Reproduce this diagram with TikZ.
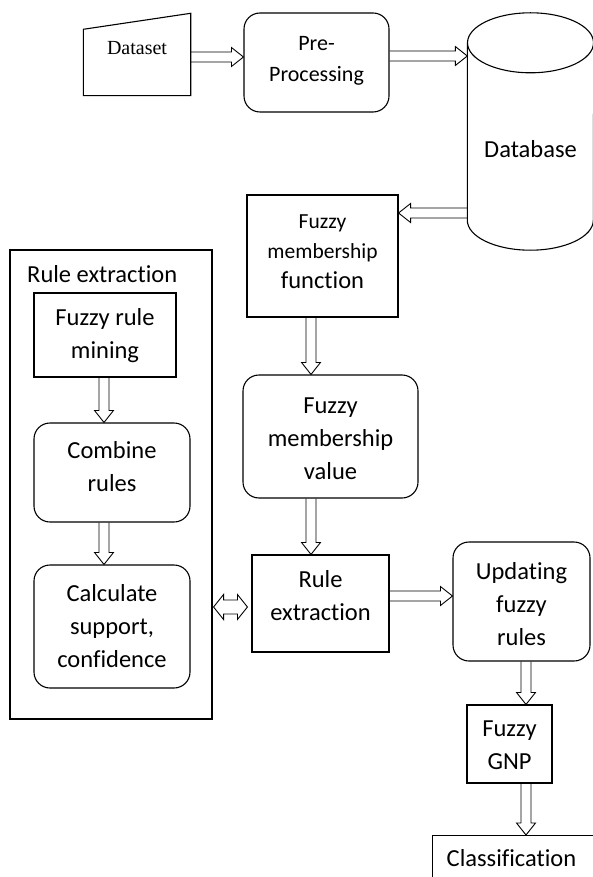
\documentclass[tikz,border=0pt]{standalone}
\usepackage{fontspec}
\setmainfont{Carlito}[Ligatures=NoCommon]
\newfontfamily\dsfont{Liberation Serif}
\usetikzlibrary{calc}
\tikzset{
  base/.style={align=center, font=\fontsize{24.5}{33}\selectfont, inner sep=0pt},
  sqbox/.style={draw, line width=1.1pt, rectangle, inner sep=0pt},
  rbox/.style={draw, line width=1.1pt, rectangle, rounded corners=16pt, inner sep=0pt},
  arrline/.style={line width=0.9pt, line join=miter},
  frameline/.style={line width=1.1pt},
}
\newcommand\blockarr[2]{%
  \coordinate (tmpC) at ($(#2)!12pt!(#1)$);
  \draw[arrline] ($(#1)!5pt!90:(#2)$) -- ($(tmpC)!5pt!90:(#2)$) -- ($(tmpC)!9.5pt!90:(#2)$)
    -- (#2) -- ($(tmpC)!9.5pt!-90:(#2)$) -- ($(tmpC)!5pt!-90:(#2)$) -- ($(#1)!5pt!-90:(#2)$);}
\newcommand\dblarr[2]{%
  \coordinate (tmpP) at ($(#1)!10pt!(#2)$);
  \coordinate (tmpQ) at ($(#2)!10pt!(#1)$);
  \draw[arrline] (#1) -- ($(tmpP)!12.5pt!90:(#2)$) -- ($(tmpP)!7pt!90:(#2)$) -- ($(tmpQ)!7pt!90:(#2)$)
    -- ($(tmpQ)!12.5pt!90:(#2)$) -- (#2) -- ($(tmpQ)!12.5pt!-90:(#2)$) -- ($(tmpQ)!7pt!-90:(#2)$)
    -- ($(tmpP)!7pt!-90:(#2)$) -- ($(tmpP)!12.5pt!-90:(#2)$) -- cycle;}
\begin{document}
\begin{tikzpicture}[x=1pt,y=-1pt]
\useasboundingbox (0,0) rectangle (593,877);
\clip (0,0) rectangle (593,877);
\fill[white] (0,0) rectangle (593,877);

% Dataset (manual input shape)
\node[minimum width=107pt, minimum height=82pt, inner sep=0pt] (ds) at (137,54.5) {};
\draw[frameline] (ds.south west) -- (ds.south east) -- (ds.north east) -- ($(ds.north west)+(0,16)$) -- cycle;
\node[font=\dsfont\fontsize{20}{24}\selectfont, inner sep=0pt] (dstext) at (137,48) {Dataset};

% Pre-processing
\node[rbox, minimum width=145pt, minimum height=99pt] (pre) at (316.5,62.5) {};
\node[base, font=\fontsize{22}{31}\selectfont] (pretext) at ($(pre.center)+(0,-2)$) {Pre-\\Processing};

% Database cylinder
\node[minimum width=126pt, minimum height=177pt, inner sep=0pt] (db) at (530.5,131.5) {};
\draw[frameline] (db.north west) -- (db.south west)
  arc[start angle=180, end angle=0, x radius=63, y radius=30] -- (db.north east);
\draw[frameline] (db.north) ellipse[x radius=63, y radius=30];
\node[base] (dbtext) at (530.5,149.5) {Database};

% Fuzzy membership function
\node[sqbox, minimum width=151pt, minimum height=122pt] (fmf) at (322.5,256) {};
\node[base, font=\fontsize{24.5}{30}\selectfont] (fmftext) at ($(fmf.center)+(0,-4.5)$)
  {{\fontsize{21.5}{30}\selectfont Fuzzy}\\{\fontsize{21.5}{30}\selectfont membership}\\function};

% Fuzzy membership value
\node[rbox, minimum width=175pt, minimum height=123pt] (val) at (330.5,436.5) {};
\node[base] (valtext) at ($(val.center)+(0,2)$) {Fuzzy\\membership\\value};

% Rule extraction (center)
\node[sqbox, minimum width=137pt, minimum height=97pt] (re) at (320.5,603.5) {};
\node[base] (retext) at ($(re.center)+(0,-8)$) {Rule\\extraction};

% Updating fuzzy rules
\node[rbox, minimum width=137pt, minimum height=119pt] (upd) at (521.5,601.5) {};
\node[base] (updtext) at ($(upd.center)+(0,2.5)$) {Updating\\fuzzy\\rules};

% Fuzzy GNP
\node[sqbox, minimum width=85pt, minimum height=78pt] (gnp) at (509.5,744) {};
\node[base] (gnptext) at ($(gnp.center)+(0,1.5)$) {Fuzzy\\GNP};

% Classification
\node[sqbox, minimum width=170pt, minimum height=60pt, anchor=north west] (cls) at (432,835) {};
\node[base] (clstext) at (511.5,858) {Classification};

% Left group
\node[sqbox, minimum width=202pt, minimum height=469pt] (rebox) at (111,484.5) {};
\node[base, anchor=west] (retitle) at (27,274) {Rule extraction};
\node[sqbox, minimum width=142pt, minimum height=84pt] (frm) at (105,335) {};
\node[base] (frmtext) at ($(frm.center)+(0,1)$) {Fuzzy rule\\mining};
\node[rbox, minimum width=156pt, minimum height=99pt] (comb) at (112,472.5) {};
\node[base] (combtext) at ($(comb.center)+(0,-5.5)$) {Combine\\rules};
\node[rbox, minimum width=156pt, minimum height=123pt] (calcbox) at (112,626.5) {};
\node[base] (calctext) at (calcbox.center) {Calculate\\support,\\confidence};

% Connectors
\coordinate (a1s) at (ds.east |- 0,57);   \coordinate (a1e) at (pre.west |- 0,57);
\blockarr{a1s}{a1e}
\coordinate (a2s) at (pre.east |- 0,56);  \coordinate (a2e) at (db.west |- 0,56);
\blockarr{a2s}{a2e}
\coordinate (a3s) at (db.west |- 0,213);  \coordinate (a3e) at (fmf.east |- 0,213);
\blockarr{a3s}{a3e}
\coordinate (a4s) at (311,0 |- fmf.south); \coordinate (a4e) at (311,0 |- val.north);
\blockarr{a4s}{a4e}
\coordinate (a5s) at (311,0 |- val.south); \coordinate (a5e) at (311,0 |- re.north);
\blockarr{a5s}{a5e}
\coordinate (a6s) at (re.east |- 0,596);  \coordinate (a6e) at (upd.west |- 0,596);
\blockarr{a6s}{a6e}
\coordinate (a7s) at (526,0 |- upd.south); \coordinate (a7e) at (526,0 |- gnp.north);
\blockarr{a7s}{a7e}
\coordinate (a8s) at (526,0 |- gnp.south); \coordinate (a8e) at (526,0 |- cls.north);
\blockarr{a8s}{a8e}
\coordinate (a9s) at (104,0 |- frm.south); \coordinate (a9e) at (104,0 |- comb.north);
\blockarr{a9s}{a9e}
\coordinate (a10s) at (104,0 |- comb.south); \coordinate (a10e) at (104,0 |- calcbox.north);
\blockarr{a10s}{a10e}
\coordinate (d1) at ($(rebox.east |- 0,607)+(1,0)$);
\coordinate (d2) at ($(re.west |- 0,607)+(-4,0)$);
\dblarr{d1}{d2}
\end{tikzpicture}
\end{document}
